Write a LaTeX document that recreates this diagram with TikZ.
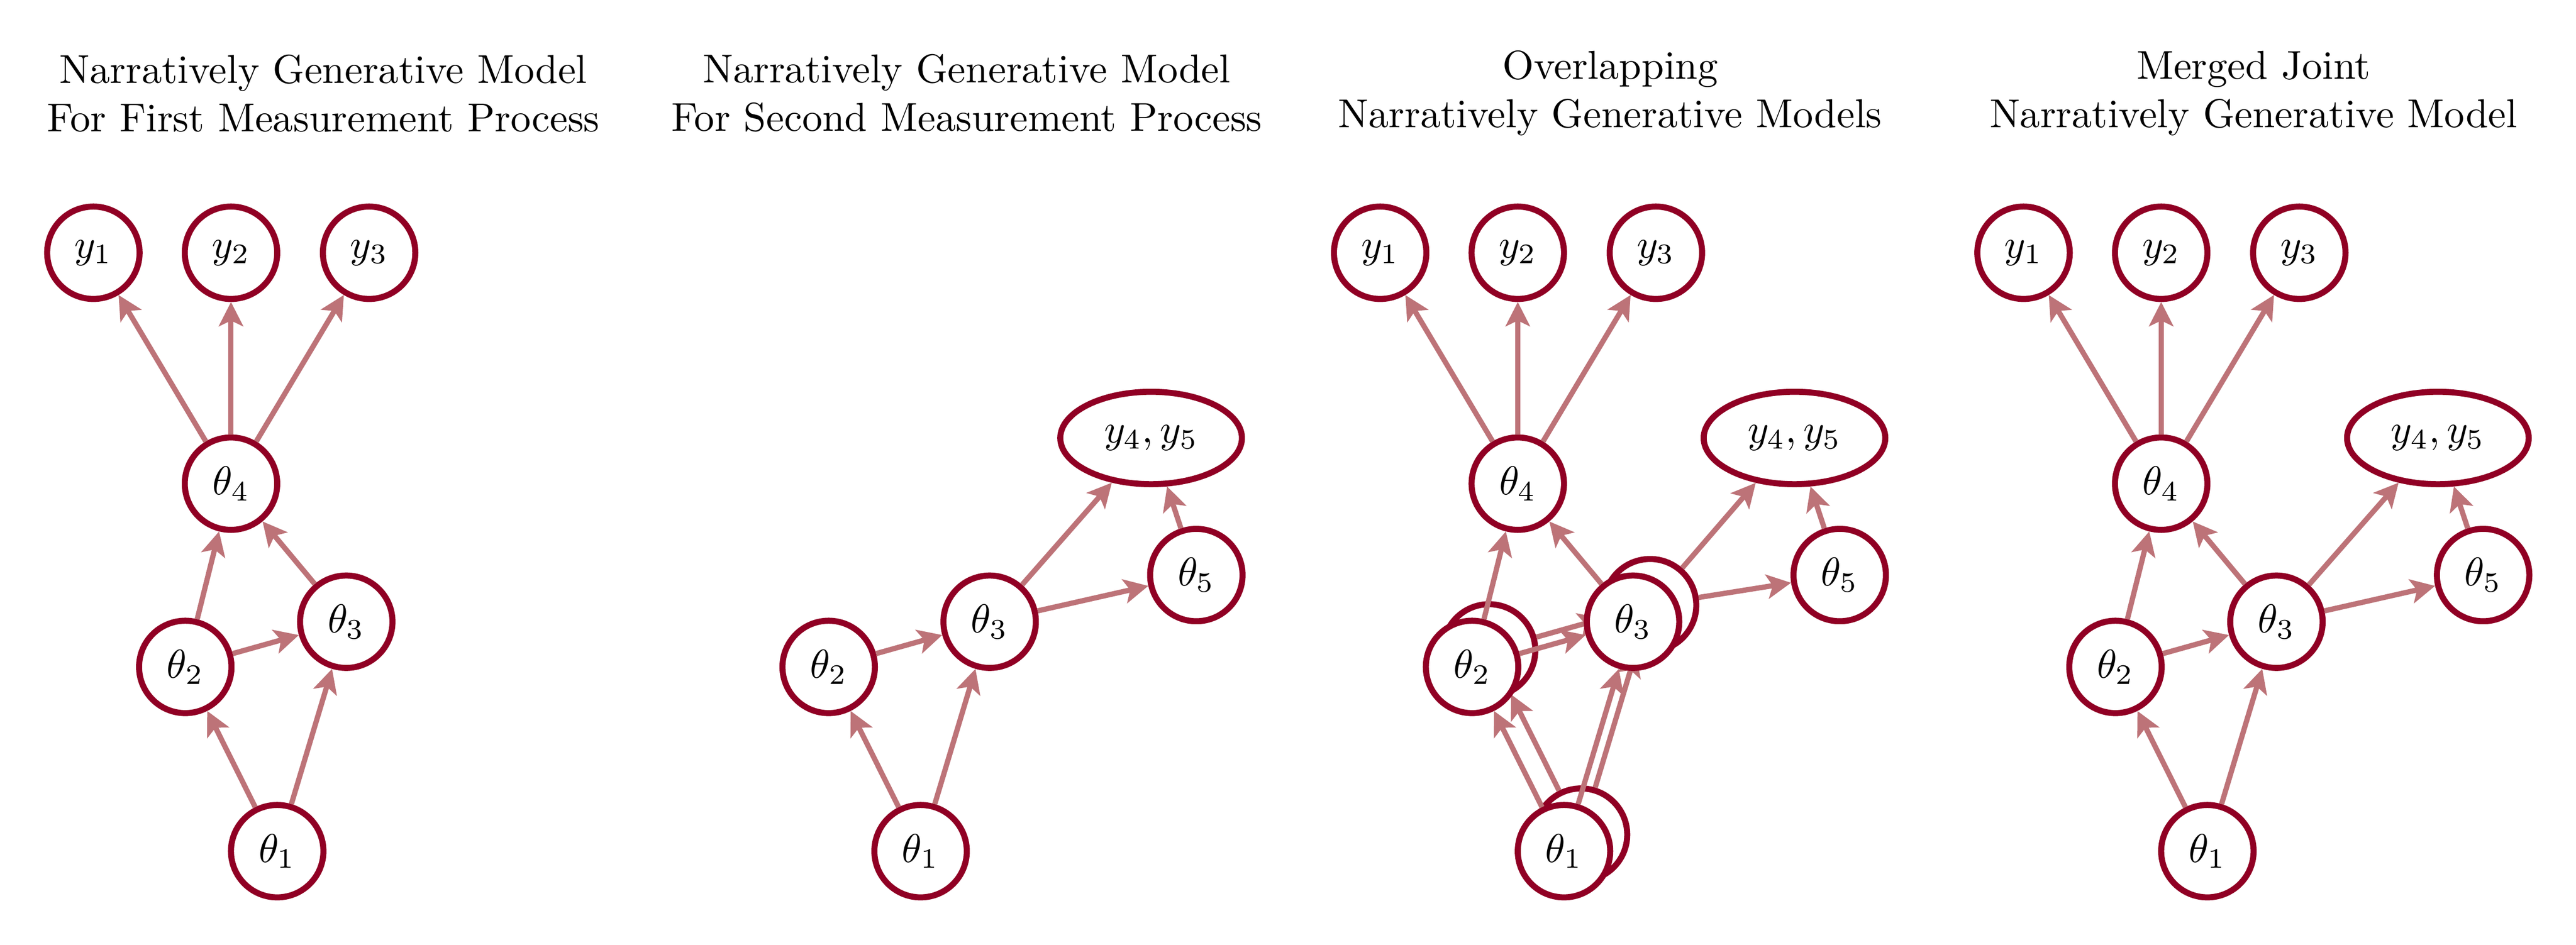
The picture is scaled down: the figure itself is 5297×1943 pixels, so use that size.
\documentclass[tikz,border=0pt]{standalone}
\usetikzlibrary{arrows.meta,shapes.geometric}
\definecolor{cdark}{RGB}{144,0,36}
\definecolor{cmid}{RGB}{189,115,120}
\begin{document}
\begin{tikzpicture}[x=0.12048pt,y=-0.12048pt,
  var/.style={circle,draw=cdark,fill=white,line width=1.5pt,minimum size=22.9pt,inner sep=0pt},
  obs/.style={ellipse,draw=cdark,fill=white,line width=1.5pt,minimum width=45pt,minimum height=22.9pt,inner sep=0pt},
  arr/.style={-{Stealth[length=6pt,width=6pt,inset=1.4pt]},draw=cmid,line width=1.3pt},
  ttl/.style={align=center,inner sep=0pt}]
\useasboundingbox (0,0) rectangle (5297,1943);

% ---------- Panel 1 ----------
\node[ttl] (t1) at (665,192) {Narratively Generative Model\\For First Measurement Process};
\node[var] (ay1) at (192,520) {$y_1$};
\node[var] (ay2) at (475,520) {$y_2$};
\node[var] (ay3) at (759,520) {$y_3$};
\node[var] (at4) at (475,995) {$\theta_4$};
\node[var] (at2) at (381,1372) {$\theta_2$};
\node[var] (at3) at (712,1279) {$\theta_3$};
\node[var] (at1) at (570,1751) {$\theta_1$};
\draw[arr] (at4) -- (ay1);
\draw[arr] (at4) -- (ay2);
\draw[arr] (at4) -- (ay3);
\draw[arr] (at2) -- (at4);
\draw[arr] (at3) -- (at4);
\draw[arr] (at2) -- (at3);
\draw[arr] (at1) -- (at2);
\draw[arr] (at1) -- (at3);

% ---------- Panel 2 ----------
\begin{scope}[shift={(1323,0)}]
\node[ttl] (t2) at (665,192) {Narratively Generative Model\\For Second Measurement Process};
\node[var] (bt2) at (381,1372) {$\theta_2$};
\node[var] (bt3) at (712,1279) {$\theta_3$};
\node[var] (bt1) at (570,1751) {$\theta_1$};
\node[var] (bt5) at (1137,1183) {$\theta_5$};
\node[obs] (by45) at (1044,901) {$y_4, y_5$};
\draw[arr] (bt1) -- (bt2);
\draw[arr] (bt1) -- (bt3);
\draw[arr] (bt2) -- (bt3);
\draw[arr] (bt3) -- (by45);
\draw[arr] (bt5) -- (by45);
\draw[arr] (bt3) -- (bt5);
\end{scope}

% ---------- Panel 3 ----------
\begin{scope}[shift={(2646,0)}]
\node[ttl] (t3) at (665,192) {Overlapping\\Narratively Generative Models};
% back layer (second model)
\node[var] (ct5) at (1137,1183) {$\theta_5$};
\node[obs] (cy45) at (1044,901) {$y_4, y_5$};
\node[var] (cbt2) at (416,1338) {$\theta_2$};
\node[var] (cbt3) at (747,1245) {$\theta_3$};
\node[var] (cbt1) at (605,1717) {$\theta_1$};
\draw[arr] (cbt1) -- (cbt2);
\draw[arr] (cbt1) -- (cbt3);
\draw[arr] (cbt2) -- (cbt3);
\draw[arr] (cbt3) -- (cy45);
\draw[arr] (ct5) -- (cy45);
\draw[arr] (cbt3) -- (ct5);
% front layer (first model)
\node[var] (cy1) at (192,520) {$y_1$};
\node[var] (cy2) at (475,520) {$y_2$};
\node[var] (cy3) at (759,520) {$y_3$};
\node[var] (ct4) at (475,995) {$\theta_4$};
\node[var] (ct2) at (381,1372) {$\theta_2$};
\node[var] (ct3) at (712,1279) {$\theta_3$};
\node[var] (ct1) at (570,1751) {$\theta_1$};
\draw[arr] (ct4) -- (cy1);
\draw[arr] (ct4) -- (cy2);
\draw[arr] (ct4) -- (cy3);
\draw[arr] (ct2) -- (ct4);
\draw[arr] (ct3) -- (ct4);
\draw[arr] (ct2) -- (ct3);
\draw[arr] (ct1) -- (ct2);
\draw[arr] (ct1) -- (ct3);
\end{scope}

% ---------- Panel 4 ----------
\begin{scope}[shift={(3969,0)}]
\node[ttl] (t4) at (665,192) {Merged Joint\\Narratively Generative Model};
\node[var] (dy1) at (192,520) {$y_1$};
\node[var] (dy2) at (475,520) {$y_2$};
\node[var] (dy3) at (759,520) {$y_3$};
\node[var] (dt4) at (475,995) {$\theta_4$};
\node[var] (dt2) at (381,1372) {$\theta_2$};
\node[var] (dt3) at (712,1279) {$\theta_3$};
\node[var] (dt1) at (570,1751) {$\theta_1$};
\node[var] (dt5) at (1137,1183) {$\theta_5$};
\node[obs] (dy45) at (1044,901) {$y_4, y_5$};
\draw[arr] (dt4) -- (dy1);
\draw[arr] (dt4) -- (dy2);
\draw[arr] (dt4) -- (dy3);
\draw[arr] (dt2) -- (dt4);
\draw[arr] (dt3) -- (dt4);
\draw[arr] (dt2) -- (dt3);
\draw[arr] (dt1) -- (dt2);
\draw[arr] (dt1) -- (dt3);
\draw[arr] (dt3) -- (dy45);
\draw[arr] (dt5) -- (dy45);
\draw[arr] (dt3) -- (dt5);
\end{scope}
\end{tikzpicture}
\end{document}
